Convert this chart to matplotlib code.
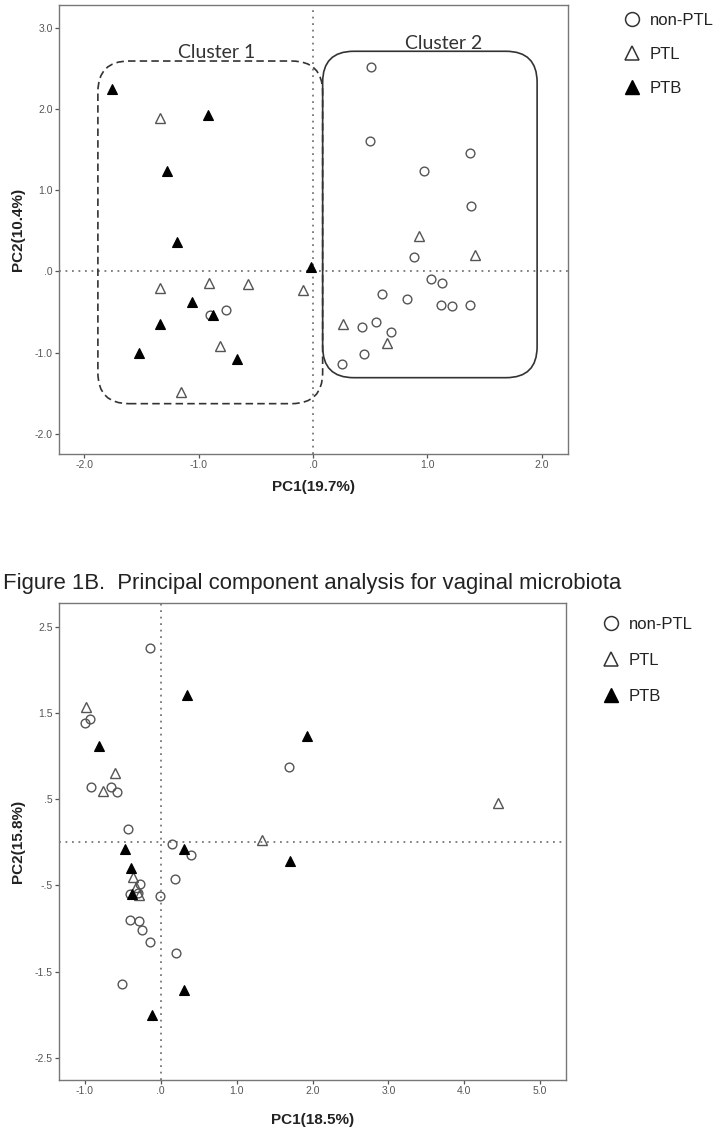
import matplotlib
matplotlib.use("Agg")
import matplotlib.pyplot as plt
from matplotlib.patches import FancyBboxPatch
from matplotlib.lines import Line2D

plt.rcParams['font.family'] = ['Liberation Sans', 'DejaVu Sans']

# ---- Figure 1A data (PC1, PC2) ----
a_non_x = [0.51, 0.50, 1.37, 0.97, 1.38, 0.88, 1.03, 1.13, 0.60, 0.82, 1.12, 1.22, 1.37,
           0.43, 0.55, 0.68, 0.45, 0.25, -0.76, -0.90]
a_non_y = [2.52, 1.61, 1.46, 1.23, 0.80, 0.18, -0.09, -0.14, -0.28, -0.34, -0.42, -0.43, -0.41,
           -0.69, -0.62, -0.75, -1.02, -1.14, -0.48, -0.54]
a_ptl_x = [-1.34, 0.93, 1.42, 0.26, 0.65, -0.09, -1.34, -0.91, -0.57, -0.81, -1.15]
a_ptl_y = [1.89, 0.44, 0.20, -0.65, -0.88, -0.23, -0.20, -0.14, -0.16, -0.92, -1.49]
a_ptb_x = [-1.76, -0.92, -1.28, -1.19, -0.02, -1.06, -0.87, -1.34, -1.52, -0.66]
a_ptb_y = [2.24, 1.92, 1.24, 0.36, 0.05, -0.38, -0.54, -0.65, -1.01, -1.08]

a_xticks = [-2.0, -1.0, 0.0, 1.0, 2.0]
a_xticklabels = ['-2.0', '-1.0', '.0', '1.0', '2.0']
a_yticks = [-2.0, -1.0, 0.0, 1.0, 2.0, 3.0]
a_yticklabels = ['-2.0', '-1.0', '.0', '1.0', '2.0', '3.0']

# cluster boxes: (x0, y0, x1, y1)
cluster1 = (-1.88, -1.63, 0.085, 2.59)
cluster2 = (0.085, -1.31, 1.96, 2.71)

# ---- Figure 1B data ----
b_non_x = [-0.14, -1.00, -0.93, 1.69, -0.92, -0.65, -0.58, -0.43, 0.15, 0.40, -0.27, 0.19,
           -0.01, -0.40, -0.30, -0.40, -0.28, -0.24, -0.14, 0.20, -0.51]
b_non_y = [2.26, 1.39, 1.43, 0.88, 0.64, 0.64, 0.58, 0.15, -0.02, -0.15, -0.48, -0.43,
           -0.62, -0.60, -0.59, -0.90, -0.91, -1.02, -1.16, -1.28, -1.65]
b_ptl_x = [-0.98, -0.60, -0.76, 1.33, 4.44, -0.37, -0.33, -0.28]
b_ptl_y = [1.57, 0.81, 0.60, 0.03, 0.46, -0.40, -0.52, -0.61]
b_ptb_x = [0.34, -0.81, 1.93, -0.47, 0.31, 1.70, -0.39, -0.38, 0.31, -0.11]
b_ptb_y = [1.71, 1.12, 1.24, -0.08, -0.08, -0.22, -0.30, -0.60, -1.71, -2.00]

b_xticks = [-1.0, 0.0, 1.0, 2.0, 3.0, 4.0, 5.0]
b_xticklabels = ['-1.0', '.0', '1.0', '2.0', '3.0', '4.0', '5.0']
b_yticks = [-2.5, -1.5, -0.5, 0.5, 1.5, 2.5]
b_yticklabels = ['-2.5', '-1.5', '-.5', '.5', '1.5', '2.5']

legend_labels = ['non-PTL', 'PTL', 'PTB']

W, H = 723, 1131
fig = plt.figure(figsize=(W / 100, H / 100), dpi=100)

def px_axes(l, t, r, b):
    return fig.add_axes([l / W, 1 - b / H, (r - l) / W, (b - t) / H])

edge = '#555555'

def style(ax, xt, xtl, yt, ytl):
    for s in ax.spines.values():
        s.set_color('#777777')
        s.set_linewidth(1.0)
    ax.set_xticks(xt)
    ax.set_xticklabels(xtl)
    ax.set_yticks(yt)
    ax.set_yticklabels(ytl)
    ax.tick_params(direction='out', length=3, width=0.9, color='#555555',
                   labelsize=7.5, labelcolor='#555555', pad=1.5)
    ax.axhline(0, color='#777777', lw=1.3, ls=(0, (1, 2.6)), zorder=1)
    ax.axvline(0, color='#777777', lw=1.3, ls=(0, (1, 2.6)), zorder=1)

def scatter(ax, nx, ny, lx, ly, bx, by):
    ax.plot(nx, ny, 'o', ms=6.3, mfc='none', mec=edge, mew=1.0, zorder=3)
    ax.plot(lx, ly, '^', ms=6.5, mfc='none', mec=edge, mew=1.0, zorder=4)
    ax.plot(bx, by, '^', ms=6.5, mfc='black', mec='black', mew=0.8, zorder=5)

def legend(ax, x, y, spacing):
    handles = [Line2D([], [], ls='none', marker='o', ms=10, mfc='none', mec='#333333', mew=1.1),
               Line2D([], [], ls='none', marker='^', ms=10, mfc='none', mec='#333333', mew=1.1),
               Line2D([], [], ls='none', marker='^', ms=10, mfc='black', mec='black')]
    ax.legend(handles, legend_labels, loc='upper left', bbox_to_anchor=(x / W, 1 - y / H),
              bbox_transform=fig.transFigure, frameon=False, fontsize=12,
              handlelength=1.0, handletextpad=0.55, labelspacing=spacing,
              borderpad=0, borderaxespad=0, labelcolor='#222222')

# ---- panel A ----
axA = px_axes(59, 5, 568, 454)
axA.set_xlim(-2.22, 2.23)
axA.set_ylim(-2.25, 3.28)
style(axA, a_xticks, a_xticklabels, a_yticks, a_yticklabels)
scatter(axA, a_non_x, a_non_y, a_ptl_x, a_ptl_y, a_ptb_x, a_ptb_y)

# rounded cluster outlines, radius ~31 px in both directions
xs = 114.3
ys = 81.2
r = 31 / xs
for (x0, y0, x1, y1), ls in [(cluster1, (0, (4.5, 2.5))), (cluster2, '-')]:
    box = FancyBboxPatch((x0, y0), x1 - x0, y1 - y0,
                         boxstyle='round,pad=0,rounding_size=%f' % r,
                         mutation_aspect=xs / ys, fill=False,
                         ec='#333333', lw=1.2, ls=ls, zorder=2)
    axA.add_patch(box)
axA.text(-0.84, 2.70, 'Cluster 1', family=['Lato', 'DejaVu Sans'], fontsize=14,
         color='#333333', ha='center', va='center')
axA.text(1.14, 2.81, 'Cluster 2', family=['Lato', 'DejaVu Sans'], fontsize=14,
         color='#333333', ha='center', va='center')

axA.set_xlabel('PC1(19.7%)', fontsize=11, fontweight='bold', color='#222222', va='center')
axA.xaxis.set_label_coords(0.5, (454 - 487) / 449)
axA.set_ylabel('PC2(10.4%)', fontsize=11, fontweight='bold', color='#222222', va='center')
axA.yaxis.set_label_coords((18 - 59) / 509, 0.5)
legend(axA, 624, 13, 1.15)

# ---- panel B ----
fig.text(3 / W, 1 - 589 / H, 'Figure 1B.  Principal component analysis for vaginal microbiota',
         fontsize=15.95, color='#222222', ha='left', va='baseline')

axB = px_axes(59, 603, 566, 1080)
axB.set_xlim(-1.34, 5.34)
axB.set_ylim(-2.76, 2.78)
style(axB, b_xticks, b_xticklabels, b_yticks, b_yticklabels)
scatter(axB, b_non_x, b_non_y, b_ptl_x, b_ptl_y, b_ptb_x, b_ptb_y)

axB.set_xlabel('PC1(18.5%)', fontsize=11, fontweight='bold', color='#222222', va='center')
axB.xaxis.set_label_coords(0.5, (1080 - 1120) / 477)
axB.set_ylabel('PC2(15.8%)', fontsize=11, fontweight='bold', color='#222222', va='center')
axB.yaxis.set_label_coords((18 - 59) / 507, 0.5)
legend(axB, 603, 617, 1.25)

fig.savefig('out.png', dpi=100)
